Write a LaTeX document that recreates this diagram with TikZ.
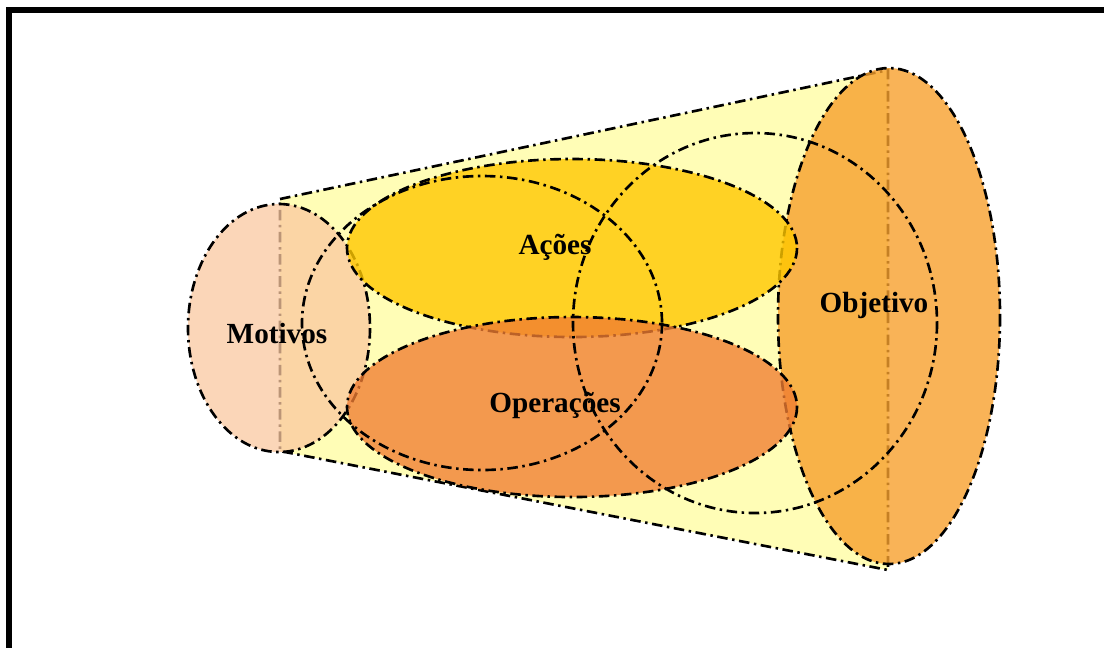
\documentclass[tikz,border=0pt]{standalone}
\usepackage{fontspec}
\setmainfont{Liberation Serif}

\definecolor{conecol}{RGB}{255,253,182}
\definecolor{motivcol}{RGB}{250,200,160}
\definecolor{objcol}{RGB}{247,160,45}
\definecolor{acaocol}{RGB}{255,200,0}
\definecolor{opercol}{RGB}{240,125,50}

\tikzset{
  dashdot/.style={line width=0.75pt, dash pattern=on 3pt off 1.3pt on 0.7pt off 1.3pt},
  lbl/.style={font=\fontsize{8.3}{10}\selectfont\bfseries}
}

\begin{document}
\begin{tikzpicture}[x=0.01cm, y=-0.01cm]
\useasboundingbox (0,0) rectangle (1104,647);
\clip (0,0) rectangle (1104,647);

% frame
\draw[line width=1.7pt] (9,700) -- (9,10) -- (1200,10);

% cone
\coordinate (lt) at (280,199);
\coordinate (rt) at (888,70);
\coordinate (rb) at (888,570);
\coordinate (lb) at (280,451);
\draw[dashdot, fill=conecol] (lt) -- (rt) -- (rb) -- (lb) -- cycle;

% end caps
\draw[dashdot, fill=motivcol, fill opacity=0.75] (279,328) ellipse (91 and 124);
\draw[dashdot, fill=objcol, fill opacity=0.8] (889,316) ellipse (111 and 248);

% layers
\draw[dashdot, fill=acaocol, fill opacity=0.8] (572,248) ellipse (225 and 89);
\draw[dashdot, fill=opercol, fill opacity=0.78] (572,407) ellipse (225 and 90);

% rings
\draw[dashdot] (482,323) ellipse (180 and 147);
\draw[dashdot] (755,323) ellipse (182 and 190);

% labels
\node[lbl] (motivos) at (277,333) {Motivos};
\node[lbl] (acoes) at (555,247) {Ações};
\node[lbl] (operacoes) at (555,405) {Operações};
\node[lbl] (objetivo) at (874,305) {Objetivo};

\end{tikzpicture}
\end{document}
